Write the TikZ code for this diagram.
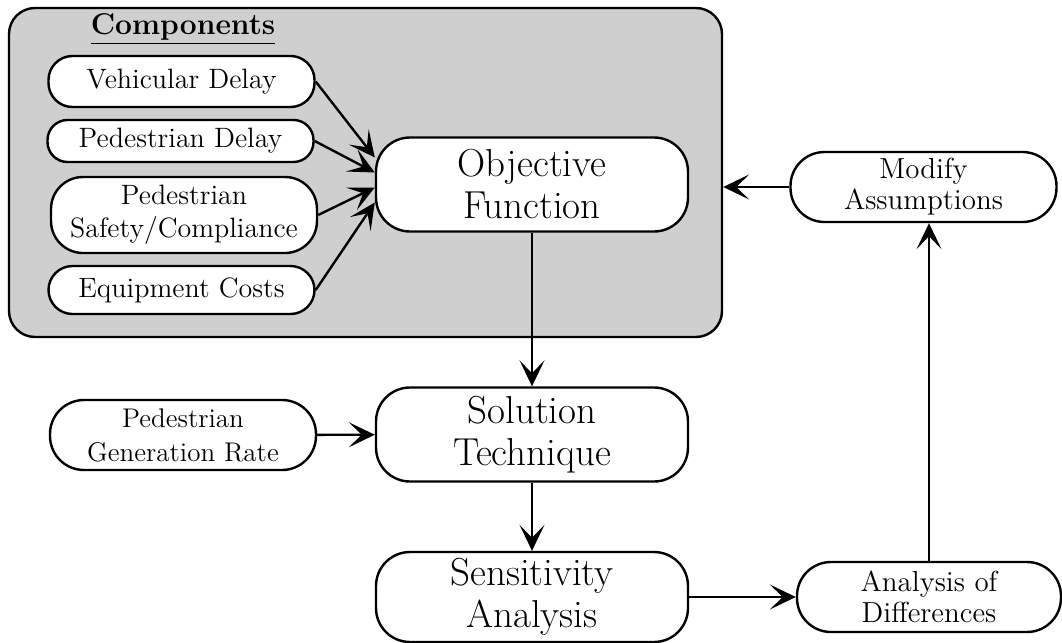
\documentclass[tikz,border=0pt]{standalone}
\usepackage{tikz}
\usetikzlibrary{arrows.meta,positioning}

\begin{document}
\begin{tikzpicture}[>={Stealth[length=13pt,width=12.5pt,inset=6.5pt]}, ->, x=0.5pt, y=-0.5pt, line width=1.2pt,
    panel/.style={draw, fill=gray!38, rounded corners=13pt, minimum width=356.5pt, minimum height=164.5pt},
    bigbox/.style={draw, fill=white, rounded corners=17pt, align=center, inner sep=2pt, minimum width=156pt, minimum height=47pt, font=\fontsize{19.5}{21}\selectfont},
    compbox/.style={draw, fill=white, rounded corners=12pt, align=center, inner sep=2pt, minimum width=133pt, font=\fontsize{14}{16.5}\selectfont},
    sidebox/.style={draw, fill=white, rounded corners=17pt, align=center, inner sep=2pt, minimum width=133pt, minimum height=35pt, font=\fontsize{14.5}{15.5}\selectfont}]

  \useasboundingbox (0,0) rectangle (1062,643);

  % shaded block with the components
  \node[panel] (comp) at (365.5,172.5) {};
  \node[font=\fontsize{15}{17}\selectfont\bfseries] (title) at (183,29) {\underline{Components}};

  \node[compbox, minimum height=25.5pt] (vd) at (181.5,81.5) {Vehicular Delay};
  \node[compbox, minimum height=21pt, rounded corners=10pt] (pd) at (180.5,141) {Pedestrian Delay};
  \node[compbox, minimum height=38pt, rounded corners=16pt] (psc) at (184,215) {Pedestrian\\Safety/Compliance};
  \node[compbox, minimum height=24pt] (ec) at (181.5,290) {Equipment Costs};

  \node[bigbox] (obj) at (532,184.5) {Objective\\Function};
  \node[bigbox] (sol) at (532,434.5) {Solution\\Technique};
  \node[bigbox, minimum height=45pt] (sens) at (532,597) {Sensitivity\\Analysis};

  \node[sidebox, font=\fontsize{13.5}{17}\selectfont] (pgr) at (183,435) {Pedestrian\\Generation Rate};
  \node[sidebox] (mod) at (923.5,187) {Modify\\Assumptions};
  \node[sidebox, minimum width=132pt] (diff) at (929,597) {Analysis of\\Differences};

  \path
  (vd.east) edge ([yshift=13.5pt]obj.west)
  (pd.east) edge ([yshift=6pt]obj.west)
  (psc.east) edge ([yshift=-1.5pt]obj.west)
  (ec.east) edge ([yshift=-9pt]obj.west)
  (obj) edge (sol)
  (pgr) edge (sol)
  (sol) edge (sens)
  (sens.east) edge (diff.west)
  (diff.north) edge (diff.north |- mod.south)
  (mod.west) edge (mod.west -| comp.east);
\end{tikzpicture}
\end{document}
